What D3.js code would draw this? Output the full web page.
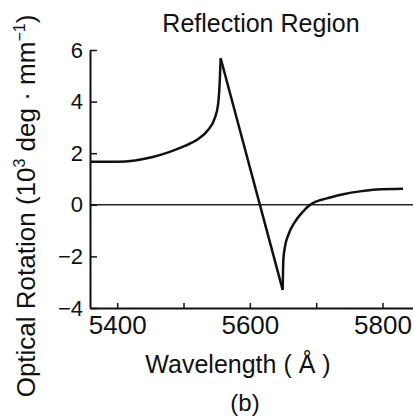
<!DOCTYPE html>
<html>
<head>
<meta charset="utf-8">
<script src="https://cdn.jsdelivr.net/npm/d3@7"></script>
<style>
  body { margin: 0; background: #fff; }
  text { font-family: "Liberation Sans", Arial, sans-serif; fill: #111; }
</style>
</head>
<body>
<div id="chart"></div>
<script>
// data
var wavelength = [5360, 5400, 5427, 5452, 5477, 5502, 5522, 5537, 5547, 5552, 5554.5, 5556,
                  5649.5, 5650, 5650.5, 5653, 5658, 5668, 5680, 5691, 5716, 5741, 5766, 5791, 5831];
var rotation = [1.67, 1.67, 1.72, 1.84, 2.03, 2.28, 2.55, 2.90, 3.35, 3.87, 4.71, 5.68,
                -3.3, -2.6, -2.14, -1.62, -1.17, -0.66, -0.27, 0.0, 0.25, 0.41, 0.52, 0.59, 0.62];
var xTicks = [5400, 5500, 5600, 5700, 5800];
var xLabels = [5400, 5600, 5800];
var yTicks = [-4, -2, 0, 2, 4, 6];

var svgWidth = 413;
var svgHeight = 417;

var svg = d3.select('#chart')
        .append('svg')
        .attr('width', svgWidth)
        .attr('height', svgHeight);

var x = d3.scaleLinear().domain([5359, 5846]).range([90, 413]);
var y = d3.scaleLinear().domain([-4, 6]).range([308, 50]);

var pts = wavelength.map((w, i) => ({w: w, r: rotation[i]}));
var peak = d3.maxIndex(pts, d => d.r);
var low = d3.minIndex(pts, d => d.r);

//zero line
svg.append('line')
    .attr('x1', x(5359)).attr('x2', x(5846))
    .attr('y1', y(0)).attr('y2', y(0))
    .attr('stroke', '#222')
    .attr('stroke-width', 1.5);

//axes
var bottomAxis = d3.axisBottom(x)
        .tickValues(xTicks)
        .tickSizeInner(-5)
        .tickSizeOuter(0)
        .tickPadding(8)
        .tickFormat(d => xLabels.includes(d) ? d : '');
var leftAxis = d3.axisLeft(y)
        .tickValues(yTicks)
        .tickSizeInner(-7)
        .tickSizeOuter(0)
        .tickPadding(7)
        .tickFormat(d => d < 0 ? '\u2212' + Math.abs(d) : d);

var gx = svg.append('g')
        .attr('transform', `translate(0, ${y(-4)})`)
        .call(bottomAxis);
var gy = svg.append('g')
        .attr('transform', `translate(${x(5359)}, 0)`)
        .call(leftAxis);

[gx, gy].forEach(g => {
    g.select('.domain').attr('stroke', '#111').attr('stroke-width', 2);
    g.selectAll('.tick line').attr('stroke', '#111').attr('stroke-width', 1.5);
    g.selectAll('.tick text').attr('fill', '#111')
        .style('font-family', '"Liberation Sans", Arial, sans-serif');
});
gx.selectAll('.tick text').style('font-size', '26px');
gy.selectAll('.tick text').style('font-size', '22px');

//curve in three pieces so the straight drop stays straight
var smooth = d3.line().x(d => x(d.w)).y(d => y(d.r)).curve(d3.curveMonotoneX);
var straight = d3.line().x(d => x(d.w)).y(d => y(d.r));

[
    [smooth, pts.slice(0, peak + 1)],
    [straight, [pts[peak], pts[low]]],
    [smooth, pts.slice(low)]
].forEach(p => {
    svg.append('path')
        .attr('d', p[0](p[1]))
        .attr('fill', 'none')
        .attr('stroke', '#111')
        .attr('stroke-width', 2.5)
        .attr('stroke-linejoin', 'round');
});

//title
svg.append('text')
    .attr('x', 261)
    .attr('y', 32)
    .style('font-size', '25px')
    .style('text-anchor', 'middle')
    .text('Reflection Region');

//x label
svg.append('text')
    .attr('x', 238)
    .attr('y', 373)
    .style('font-size', '25px')
    .style('text-anchor', 'middle')
    .text('Wavelength ( \u00C5 )');

//panel label
svg.append('text')
    .attr('x', 245)
    .attr('y', 411)
    .style('font-size', '24px')
    .style('text-anchor', 'middle')
    .text('(b)');

//y label
var yl = svg.append('text')
    .attr('transform', 'translate(35, 206) rotate(-90)')
    .style('font-size', '26px')
    .style('text-anchor', 'middle');
yl.append('tspan').text('Optical Rotation (10');
yl.append('tspan').attr('dy', -10).style('font-size', '16px').text('3');
yl.append('tspan').attr('dy', 10).text(' deg \u00B7 mm');
yl.append('tspan').attr('dy', -10).style('font-size', '16px').text('\u22121');
yl.append('tspan').attr('dy', 10).text(')');
</script>
</body>
</html>
